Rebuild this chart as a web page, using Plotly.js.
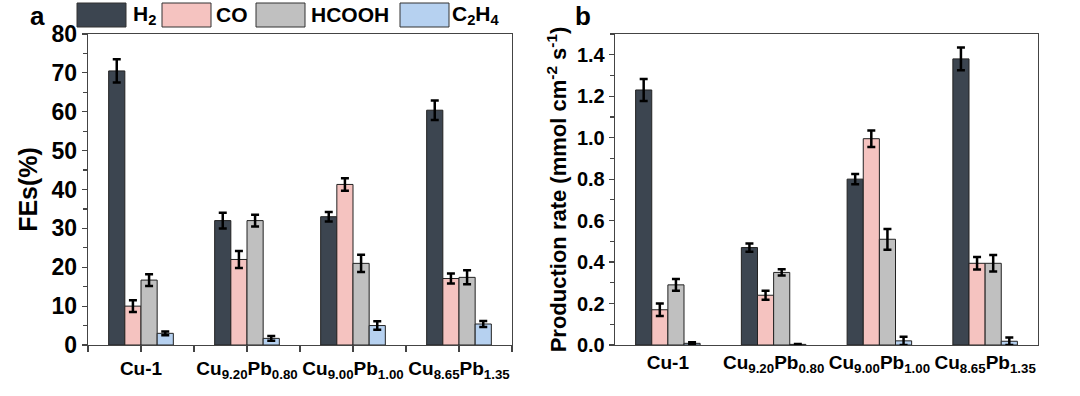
<!DOCTYPE html>
<html><head><meta charset="utf-8">
<script src="https://cdn.plot.ly/plotly-3.0.1.min.js"></script>
<style>html,body{margin:0;padding:0;background:#fff}#chart{width:1080px;height:396px}</style>
</head><body><div id="chart"></div>
<script>
// Categories (x positions 0..3) and tick labels
const categories = [0, 1, 2, 3];
const tickLabels = ["<b>Cu-1</b>", "<b>Cu<sub>9.20</sub>Pb<sub>0.80</sub></b>", "<b>Cu<sub>9.00</sub>Pb<sub>1.00</sub></b>", "<b>Cu<sub>8.65</sub>Pb<sub>1.35</sub></b>"];

const seriesNames = ["H<sub>2</sub>", "CO", "HCOOH", "C<sub>2</sub>H<sub>4</sub>"];
const seriesColors = ["#3c4550", "#f5c3c0", "#c0c0c0", "#b6d1f0"];

// Panel a: Faradaic efficiencies (%)
const feH2 = [70.5, 32.0, 33.0, 60.4];
const feCO = [10.0, 22.0, 41.3, 17.1];
const feHCOOH = [16.7, 32.0, 21.0, 17.4];
const feC2H4 = [3.0, 1.7, 5.0, 5.4];
const feH2Err = [3.0, 2.0, 1.2, 2.5];
const feCOErr = [1.5, 2.2, 1.6, 1.3];
const feHCOOHErr = [1.5, 1.5, 2.2, 1.8];
const feC2H4Err = [0.5, 0.6, 1.1, 0.8];

// Panel b: production rate (mmol cm^-2 s^-1)
const prH2 = [1.23, 0.47, 0.80, 1.38];
const prCO = [0.17, 0.24, 0.995, 0.394];
const prHCOOH = [0.29, 0.35, 0.51, 0.394];
const prC2H4 = [0.008, 0.003, 0.02, 0.018];
const prH2Err = [0.053, 0.02, 0.025, 0.055];
const prCOErr = [0.03, 0.022, 0.04, 0.03];
const prHCOOHErr = [0.028, 0.015, 0.05, 0.04];
const prC2H4Err = [0.005, 0.002, 0.02, 0.018];

const feVals = [feH2, feCO, feHCOOH, feC2H4];
const feErrs = [feH2Err, feCOErr, feHCOOHErr, feC2H4Err];
const prVals = [prH2, prCO, prHCOOH, prC2H4];
const prErrs = [prH2Err, prCOErr, prHCOOHErr, prC2H4Err];

const FONT = "Arial, 'Liberation Sans', sans-serif";
const traces = [];
function addBars(vals, errs, xa, ya) {
  for (let i = 0; i < 4; i++) {
    traces.push({
      type: 'bar', x: categories, y: vals[i], name: seriesNames[i],
      xaxis: xa, yaxis: ya, showlegend: false,
      marker: {color: seriesColors[i], line: {color: '#222', width: 1}},
      error_y: {type: 'data', array: errs[i], visible: true, color: '#000', thickness: 2.5, width: 4}
    });
  }
}
addBars(feVals, feErrs, 'x', 'y');
addBars(prVals, prErrs, 'x2', 'y2');

const W = 1080, H = 396;
const yDom = [1 - 345 / H, 1 - 34 / H];

const commonX = {
  type: 'linear', range: [-0.5, 3.5], tickvals: categories, ticktext: tickLabels, tickangle: 0,
  tickfont: {family: FONT, size: 19, color: '#000'}, automargin: false,
  showline: true, linecolor: '#444', linewidth: 1.3, mirror: true,
  showgrid: false, zeroline: false
};
const commonY = {
  showline: true, linecolor: '#444', linewidth: 1.3, mirror: true, automargin: false,
  showgrid: false, zeroline: false, ticks: 'outside', ticklen: 5, tickwidth: 1.2, tickcolor: '#444'
};

// custom legend (large swatches) built from the series arrays
const legendSwatchX = [77, 162, 256, 400];
const legendTextX = [131, 214, 309, 450];
const shapes = [], annotations = [];
for (let i = 0; i < 4; i++) {
  shapes.push({type: 'rect', xref: 'paper', yref: 'paper',
    x0: legendSwatchX[i] / W, x1: (legendSwatchX[i] + 49) / W, y0: 1 - 27 / H, y1: 1 - 3 / H,
    fillcolor: seriesColors[i], line: {color: '#333', width: 1}});
  annotations.push({xref: 'paper', yref: 'paper', x: legendTextX[i] / W, y: 1 - 15 / H,
    xanchor: 'left', yanchor: 'middle', showarrow: false, text: '<b>' + seriesNames[i] + '</b>',
    font: {family: FONT, size: 21, color: '#000'}});
}
annotations.push({xref: 'paper', yref: 'paper', x: 28 / W, y: 1 - 16 / H, xanchor: 'left', yanchor: 'middle',
  showarrow: false, text: '<b>a</b>', font: {family: FONT, size: 26, color: '#000'}});
annotations.push({xref: 'paper', yref: 'paper', x: 573 / W, y: 1 - 16 / H, xanchor: 'left', yanchor: 'middle',
  showarrow: false, text: '<b>b</b>', font: {family: FONT, size: 26, color: '#000'}});

const layout = {
  width: W, height: H, margin: {l: 0, r: 0, t: 0, b: 0},
  paper_bgcolor: '#fff', plot_bgcolor: '#fff',
  barmode: 'group', bargap: 0.39, bargroupgap: 0,
  font: {family: FONT, color: '#000'},
  xaxis: Object.assign({}, commonX, {domain: [88 / W, 512 / W], anchor: 'y',
    ticks: 'outside', ticklen: 6, tickwidth: 1.2, tickcolor: '#444',
    minor: {tickvals: [-0.5, 0.5, 1.5, 2.5, 3.5], ticks: 'outside', ticklen: 6, tickwidth: 1.2, tickcolor: '#444'}}),
  yaxis: Object.assign({}, commonY, {domain: yDom, anchor: 'x', range: [0, 80], dtick: 10,
    tickfont: {family: FONT, size: 23, color: '#000', weight: 'bold'},
    minor: {dtick: 5, ticks: 'outside', ticklen: 4, tickcolor: '#444'},
    title: {text: '<b>FEs(%)</b>', font: {family: FONT, size: 25, color: '#000'}, standoff: 6}}),
  xaxis2: Object.assign({}, commonX, {domain: [615 / W, 1038 / W], anchor: 'y2', ticks: ''}),
  yaxis2: Object.assign({}, commonY, {domain: yDom, anchor: 'x2', range: [0, 1.5], dtick: 0.2, tickformat: '.1f',
    tickfont: {family: FONT, size: 20, color: '#000', weight: 'bold'},
    minor: {dtick: 0.1, ticks: 'outside', ticklen: 4, tickcolor: '#444'},
    title: {text: '<b>Production rate (mmol cm<sup>-2</sup> s<sup>-1</sup>)</b>', font: {family: FONT, size: 22, color: '#000'}, standoff: 4}}),
  shapes: shapes, annotations: annotations, showlegend: false
};

Plotly.newPlot('chart', traces, layout, {displayModeBar: false, staticPlot: true});
</script></body></html>
